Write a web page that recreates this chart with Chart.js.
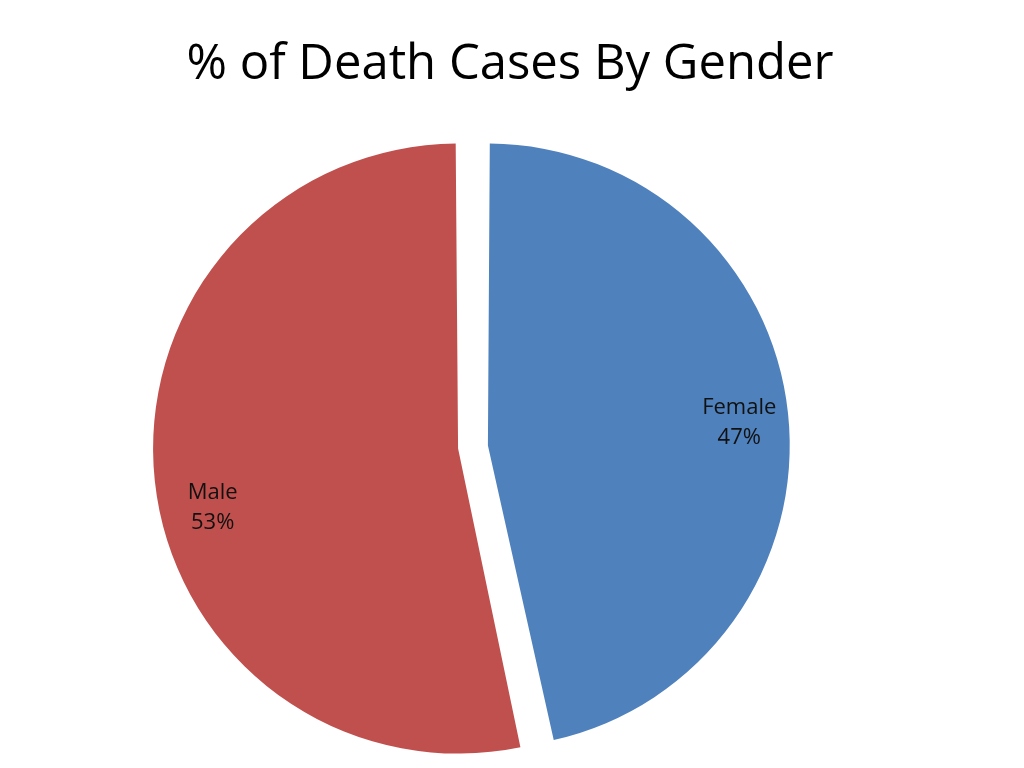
<!DOCTYPE html>
<html>
<head>
<meta charset="utf-8">
<title>% of Death Cases By Gender</title>
<script src="https://cdn.jsdelivr.net/npm/chart.js@4/dist/chart.umd.min.js"></script>
<style>
  html, body { margin: 0; padding: 0; background: #fff; }
  #wrap { position: relative; width: 1024px; height: 768px; overflow: hidden; }
  #title {
    position: absolute; left: 0; top: 31px; width: 1020px;
    text-align: center; font-family: "Open Sans", sans-serif;
    font-size: 49px; line-height: 58px; color: #000;
  }
  #chart { position: absolute; left: 0; top: 0; }
</style>
</head>
<body>
<div id="wrap">
  <div id="title">% of Death Cases By Gender</div>
  <canvas id="chart" width="1024" height="768"></canvas>
</div>
<script>
// data (slice edges give ~46.6 / 53.4, labels show rounded %)
const categories = ['Female', 'Male'];
const shares = [46.6, 53.4];
const sliceColors = ['#4F81BD', '#C0504D'];

// label placement inside the slices (fraction of radius, angle nudge in degrees)
const labelRadius = 0.87;
const labelNudge = [1, -7];

const sliceLabels = {
  id: 'sliceLabels',
  afterDatasetsDraw(chart) {
    const ctx = chart.ctx;
    const meta = chart.getDatasetMeta(0);
    const total = shares.reduce(function(a, b) { return a + b; }, 0);
    ctx.save();
    ctx.font = '22px "Open Sans", sans-serif';
    ctx.fillStyle = '#111';
    ctx.textAlign = 'center';
    ctx.textBaseline = 'middle';
    meta.data.forEach(function(arc, i) {
      const p = arc.getProps(['x', 'y', 'startAngle', 'endAngle', 'outerRadius', 'options']);
      const mid = (p.startAngle + p.endAngle) / 2 + labelNudge[i] * Math.PI / 180;
      // chart.js moves an exploded arc by a quarter of its offset
      const off = (p.options.offset || 0) / 4;
      const d = p.outerRadius * labelRadius + off;
      const x = p.x + Math.cos(mid) * d;
      const y = p.y + Math.sin(mid) * d;
      ctx.fillText(categories[i], x, y - 15);
      ctx.fillText(Math.round(shares[i] / total * 100) + '%', x, y + 15);
    });
    ctx.restore();
  }
};

new Chart(document.getElementById('chart').getContext('2d'), {
  type: 'pie',
  data: {
    labels: categories,
    datasets: [{
      data: shares,
      backgroundColor: sliceColors,
      borderWidth: 0,
      offset: 60
    }]
  },
  options: {
    responsive: false,
    animation: false,
    radius: 290,
    layout: { padding: { top: 135, bottom: 9, left: 0, right: 78 } },
    plugins: {
      legend: { display: false },
      tooltip: { enabled: false }
    }
  },
  plugins: [sliceLabels]
});
</script>
</body>
</html>
